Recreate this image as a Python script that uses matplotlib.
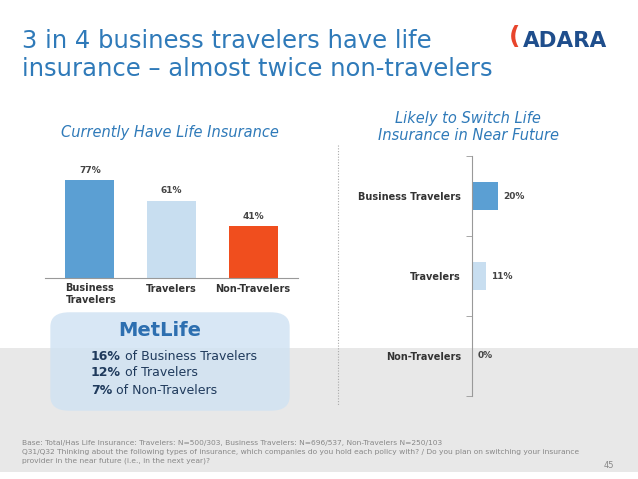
import matplotlib.pyplot as plt
from matplotlib.patches import FancyBboxPatch, Rectangle

# data
categories = ["Business\nTravelers", "Travelers", "Non-Travelers"]
have_life = [77, 61, 41]
switch_cats = ["Business Travelers", "Travelers", "Non-Travelers"]
switch_life = [20, 11, 0]
metlife_pct = ["16%", "12%", "7%"]
metlife_txt = [" of Business Travelers", " of Travelers", " of Non-Travelers"]

bar_colors = ["#5b9fd3", "#c8def0", "#f04e1e"]
blue = "#2f7ab9"
W, H = 638, 479

fig = plt.figure(figsize=(W / 100, H / 100), dpi=100)
fig.patch.set_facecolor("white")


def fx(x):
    return x / W


def fy(y):
    return 1 - y / H


# grey footer band
fig.add_artist(Rectangle((0, fy(472)), 1, (472 - 348) / H, transform=fig.transFigure,
                         facecolor="#e8e8e8", edgecolor="none", zorder=0))

fig.text(fx(22), fy(55), "3 in 4 business travelers have life\ninsurance \u2013 almost twice non-travelers",
         fontsize=17.5, color=blue, va="center", ha="left", linespacing=1.2)
fig.text(fx(523), fy(41), "ADARA", fontsize=15.5, color="#1f4e8c", fontweight="bold", ha="left", va="center")
fig.text(fx(515), fy(37), "(", fontsize=18, color="#e8452c", fontweight="bold", ha="center", va="center")

# left chart
ax1 = fig.add_axes([fx(45), fy(278), fx(253), (278 - 151) / H])
x = range(len(categories))
bars = ax1.bar(x, have_life, width=0.6, color=bar_colors)
ax1.set_ylim(0, 100)
ax1.set_xlim(-0.55, 2.55)
for b, v in zip(bars, have_life):
    ax1.text(b.get_x() + b.get_width() / 2, v + 4, f"{v}%", ha="center", va="bottom",
             fontsize=6.5, fontweight="bold", color="#444444")
ax1.set_xticks(list(x))
ax1.set_xticklabels([""] + categories[1:], fontsize=7, fontweight="bold", color="#333333")
ax1.text(bars[0].get_x(), -4, categories[0], ha="left", va="top", fontsize=7,
         fontweight="bold", color="#333333", linespacing=1.3)
ax1.tick_params(axis="x", length=0, pad=4)
ax1.set_yticks([])
for s in ["top", "left", "right"]:
    ax1.spines[s].set_visible(False)
ax1.spines["bottom"].set_color("#999999")
ax1.patch.set_alpha(0)
fig.text(fx(170), fy(133), "Currently Have Life Insurance", fontsize=10.5, style="italic",
         color=blue, ha="center", va="center")

# MetLife box
fig.add_artist(FancyBboxPatch((fx(58), fy(405)), fx(224), (405 - 318) / H,
                              boxstyle="round,pad=0.012,rounding_size=0.03",
                              transform=fig.transFigure, facecolor="#cfe2f3",
                              edgecolor="none", alpha=0.8, zorder=1))
fig.text(fx(160), fy(330), "MetLife", fontsize=14, fontweight="bold", color="#2d6fb0",
         ha="center", va="center")
for i, (p, t) in enumerate(zip(metlife_pct, metlife_txt)):
    yy = fy(356 + i * 17)
    tp = fig.text(fx(91), yy, p, fontsize=9, fontweight="bold", color="#1f3a5c", va="center")
    fig.canvas.draw()
    bb = tp.get_window_extent()
    fig.text(bb.x1 / fig.dpi / fig.get_figwidth(), yy, t, fontsize=9, color="#1f3a5c", va="center")

# dashed divider
fig.add_artist(plt.Line2D([fx(338), fx(338)], [fy(145), fy(405)], transform=fig.transFigure,
                          color="#aaaaaa", linestyle=(0, (1, 1.5)), linewidth=0.8))

# right chart
ax2 = fig.add_axes([fx(472), fy(396), fx(130), (396 - 156) / H])
y = range(len(switch_cats))
hb = ax2.barh(y, switch_life, height=0.35, color=bar_colors[:2] + ["#c8def0"])
ax2.set_xlim(0, 100)
ax2.set_ylim(2.5, -0.5)
for b, v in zip(hb, switch_life):
    ax2.text(v + 4, b.get_y() + b.get_height() / 2, f"{v}%", va="center", ha="left",
             fontsize=6.5, fontweight="bold", color="#444444")
ax2.set_yticks(list(y))
ax2.set_yticklabels(switch_cats, fontsize=7, fontweight="bold", color="#333333")
ax2.set_yticks([-0.5, 0.5, 1.5, 2.5], minor=True)
ax2.tick_params(axis="y", which="major", length=0, pad=8)
ax2.tick_params(axis="y", which="minor", length=4, color="#999999")
ax2.set_xticks([])
for s in ["top", "bottom", "right"]:
    ax2.spines[s].set_visible(False)
ax2.spines["left"].set_color("#999999")
ax2.patch.set_alpha(0)
fig.text(fx(468), fy(127), "Likely to Switch Life\nInsurance in Near Future", fontsize=10.5,
         style="italic", color=blue, ha="center", va="center", linespacing=1.25)

# footnote
fig.text(fx(22), fy(452), "Base: Total/Has Life Insurance: Travelers: N=500/303, Business Travelers: N=696/537, "
         "Non-Travelers N=250/103\nQ31/Q32 Thinking about the following types of insurance, which companies do you "
         "hold each policy with? / Do you plan on switching your insurance\nprovider in the near future (i.e., in the "
         "next year)?", fontsize=5.4, color="#888888", va="center", linespacing=1.5)
fig.text(fx(614), fy(466), "45", fontsize=6, color="#888888", ha="right", va="center")

fig.savefig("out.png", dpi=100)
